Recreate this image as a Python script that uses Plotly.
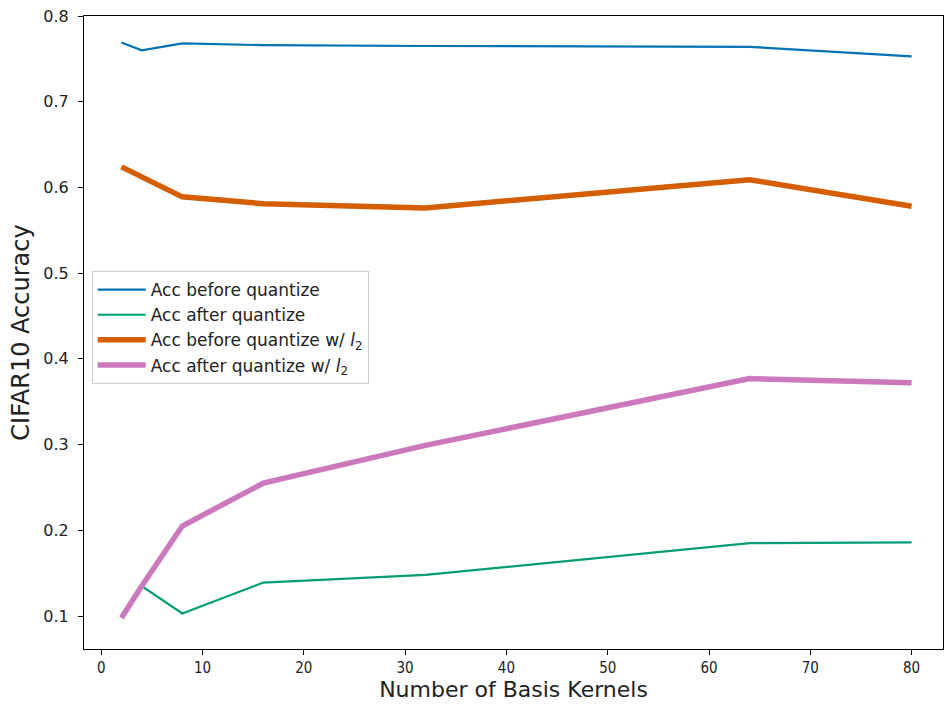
import plotly.graph_objects as go

# Number of basis kernels (x) and CIFAR10 accuracy for each setting
kernels = [2, 4, 8, 16, 32, 64, 80]
acc_before = [0.769, 0.760, 0.768, 0.766, 0.765, 0.764, 0.753]
acc_after = [0.098, 0.135, 0.103, 0.139, 0.148, 0.185, 0.186]
acc_before_l2 = [0.624, 0.612, 0.589, 0.581, 0.576, 0.609, 0.578]
acc_after_l2 = [0.098, 0.135, 0.205, 0.255, 0.299, 0.377, 0.372]

x_ticks = [0, 10, 20, 30, 40, 50, 60, 70, 80]
y_ticks = [0.1, 0.2, 0.3, 0.4, 0.5, 0.6, 0.7, 0.8]

series = [
    ("Acc before quantize", acc_before, "#0173b2", 2.2),
    ("Acc after quantize", acc_after, "#029e73", 2.2),
    ("Acc before quantize w/ <i>l</i><sub>2</sub>", acc_before_l2, "#d55e00", 5.5),
    ("Acc after quantize w/ <i>l</i><sub>2</sub>", acc_after_l2, "#cc78bc", 5.5),
]

fig = go.Figure()
for name, vals, color, width in series:
    fig.add_trace(go.Scatter(
        x=kernels, y=vals, mode="lines", name=name,
        line=dict(color=color, width=width),
    ))

axis_common = dict(
    showline=True, linecolor="black", linewidth=1, mirror=True,
    ticks="outside", ticklen=5, tickcolor="black", tickwidth=1,
    showgrid=False, zeroline=False,
)

fig.update_layout(
    width=945, height=704,
    margin=dict(l=84, r=2, t=16, b=55),
    plot_bgcolor="white", paper_bgcolor="white",
    font=dict(family="DejaVu Sans", color="#222"),
    xaxis=dict(
        range=[-1.7, 83.1], tickvals=x_ticks,
        tickfont=dict(family="DejaVu Sans Condensed, DejaVu Sans", size=15, color="#222"),
        title=dict(text="Number of Basis Kernels", font=dict(size=22), standoff=3),
        **axis_common,
    ),
    yaxis=dict(
        range=[0.0615, 0.8], tickvals=y_ticks, tickformat=".1f",
        tickfont=dict(family="DejaVu Sans", size=16, color="#222"),
        ticklabelstandoff=6,
        title=dict(text="CIFAR10 Accuracy", font=dict(size=24), standoff=6),
        **axis_common,
    ),
    legend=dict(
        x=0.009, y=0.597, xanchor="left", yanchor="top",
        bgcolor="rgba(255,255,255,0.8)", bordercolor="#cccccc", borderwidth=1,
        font=dict(family="DejaVu Sans", size=17, color="#222"),
        itemwidth=48,
    ),
    showlegend=True,
)

fig.write_html("out.html")
